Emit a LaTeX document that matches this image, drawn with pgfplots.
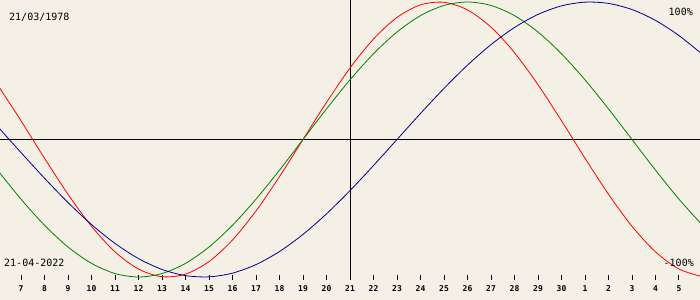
\documentclass[border=0pt]{standalone}
\usepackage{pgfplots}
\pgfplotsset{compat=1.18}
\usepackage{fontspec}
\setmainfont{DejaVu Sans Mono}
\definecolor{bg}{RGB}{244,240,229}
\definecolor{cred}{RGB}{255,0,0}
\definecolor{cgreen}{RGB}{0,128,0}
\definecolor{cblue}{RGB}{0,0,140}
\begin{document}
\begin{tikzpicture}
\fill[bg] (0,-20bp) rectangle (700bp,280bp);
\begin{axis}[
  at={(0,0)}, anchor=south west,
  scale only axis, width=700bp, height=280bp,
  xmin=-14.894, xmax=14.894,
  ymin=-1.0218, ymax=1.01455,
  axis line style={draw=none},
  ytick=\empty,
  xtick={-14,-13,...,14},
  xticklabels={7,8,9,10,11,12,13,14,15,16,17,18,19,20,21,22,23,24,25,26,27,28,29,30,1,2,3,4,5},
  xtick pos=bottom, xtick align=inside,
  major tick length=5bp,
  tick style={black, line width=1bp},
  xticklabel style={font=\fontsize{8bp}{9bp}\selectfont\bfseries, inner sep=0pt, anchor=north, yshift=-5bp},
  /pgf/number format/assume math mode=true,
]
\addplot[black, line width=0.8bp] coordinates {(-15,0) (15,0)};
\addplot[black, line width=0.8bp] coordinates {(0,-1.0218) (0,1.01455)};
% physical (23 days)
\addplot[cred, line width=0.8bp, smooth] coordinates {
(-15,0.3984)(-14,0.1362)(-13,-0.1362)(-12,-0.3984)(-11,-0.6311)(-10,-0.8170)(-9,-0.9423)(-8,-0.9977)(-7,-0.9791)(-6,-0.8879)(-5,-0.7308)(-4,-0.5196)(-3,-0.2698)(-2,0)(-1,0.2698)(0,0.5196)(1,0.7308)(2,0.8879)(3,0.9791)(4,0.9977)(5,0.9423)(6,0.8170)(7,0.6311)(8,0.3984)(9,0.1362)(10,-0.1362)(11,-0.3984)(12,-0.6311)(13,-0.8170)(14,-0.9423)(15,-0.9977)};
% emotional (28 days)
\addplot[cgreen, line width=0.8bp, smooth] coordinates {
(-15,-0.2225)(-14,-0.4339)(-13,-0.6235)(-12,-0.7818)(-11,-0.9010)(-10,-0.9749)(-9,-1)(-8,-0.9749)(-7,-0.9010)(-6,-0.7818)(-5,-0.6235)(-4,-0.4339)(-3,-0.2225)(-2,0)(-1,0.2225)(0,0.4339)(1,0.6235)(2,0.7818)(3,0.9010)(4,0.9749)(5,1)(6,0.9749)(7,0.9010)(8,0.7818)(9,0.6235)(10,0.4339)(11,0.2225)(12,0)(13,-0.2225)(14,-0.4339)(15,-0.6235)};
% intellectual (33 days)
\addplot[cblue, line width=0.8bp, smooth] coordinates {
(-15,0.0951)(-14,-0.0951)(-13,-0.2817)(-12,-0.4582)(-11,-0.6182)(-10,-0.7557)(-9,-0.8660)(-8,-0.9450)(-7,-0.9898)(-6,-0.9989)(-5,-0.9718)(-4,-0.9096)(-3,-0.8146)(-2,-0.6901)(-1,-0.5406)(0,-0.3717)(1,-0.1893)(2,0)(3,0.1893)(4,0.3717)(5,0.5406)(6,0.6901)(7,0.8146)(8,0.9096)(9,0.9718)(10,0.9989)(11,0.9898)(12,0.9450)(13,0.8660)(14,0.7557)(15,0.6182)};
\end{axis}
\node[anchor=base west, inner sep=0pt, font=\fontsize{10bp}{12bp}\selectfont] at (9bp,259bp) {21/03/1978};
\node[anchor=base east, inner sep=0pt, font=\fontsize{10bp}{12bp}\selectfont] at (693bp,264bp) {100\%};
\node[anchor=base east, inner sep=0pt, font=\fontsize{10bp}{12bp}\selectfont] at (694bp,14bp) {-100\%};
\node[anchor=base west, inner sep=0pt, font=\fontsize{10bp}{12bp}\selectfont] at (4bp,14bp) {21-04-2022};
\end{tikzpicture}
\end{document}
